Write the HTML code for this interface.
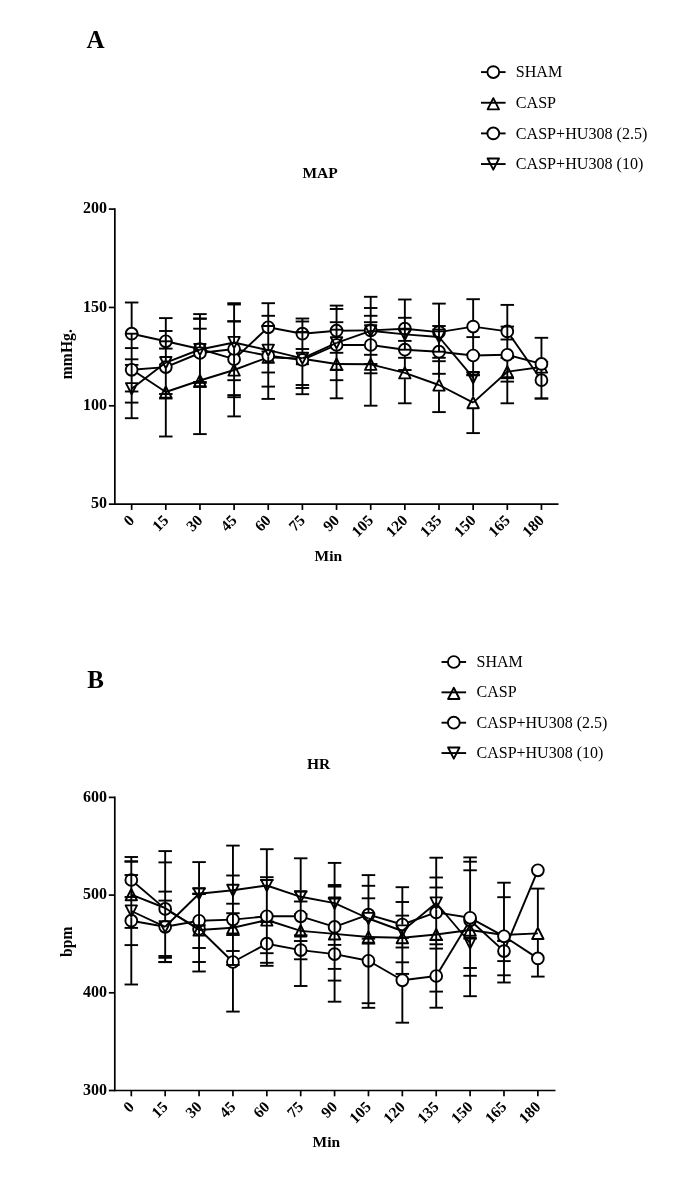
<!DOCTYPE html>
<html lang="en"><head><meta charset="utf-8"><title>MAP and HR</title>
<style>
html,body{margin:0;padding:0;background:#fff;}
svg{display:block;will-change:transform;font-family:"Liberation Serif","Times New Roman",serif;fill:#000;}
</style></head><body>
<svg width="685" height="1180" viewBox="0 0 685 1180">
<rect width="685" height="1180" fill="#fff"/>
<line x1="114.85" y1="208.25" x2="114.85" y2="505" stroke="#000" stroke-width="1.7"/>
<line x1="114" y1="504.15" x2="558.5" y2="504.15" stroke="#000" stroke-width="1.7"/>
<line x1="108.85" y1="209.1" x2="114.85" y2="209.1" stroke="#000" stroke-width="1.7"/>
<text x="106.95" y="213.2" font-size="16" font-weight="bold" text-anchor="end">200</text>
<line x1="108.85" y1="307.45" x2="114.85" y2="307.45" stroke="#000" stroke-width="1.7"/>
<text x="106.95" y="311.55" font-size="16" font-weight="bold" text-anchor="end">150</text>
<line x1="108.85" y1="405.8" x2="114.85" y2="405.8" stroke="#000" stroke-width="1.7"/>
<text x="106.95" y="409.9" font-size="16" font-weight="bold" text-anchor="end">100</text>
<line x1="108.85" y1="504.15" x2="114.85" y2="504.15" stroke="#000" stroke-width="1.7"/>
<text x="106.95" y="508.25" font-size="16" font-weight="bold" text-anchor="end">50</text>
<line x1="131.65" y1="504.15" x2="131.65" y2="509.95" stroke="#000" stroke-width="1.7"/>
<text transform="translate(135.25 521.35) rotate(-45)" font-size="15.5" font-weight="bold" text-anchor="end">0</text>
<line x1="165.8" y1="504.15" x2="165.8" y2="509.95" stroke="#000" stroke-width="1.7"/>
<text transform="translate(169.4 521.35) rotate(-45)" font-size="15.5" font-weight="bold" text-anchor="end">15</text>
<line x1="199.95" y1="504.15" x2="199.95" y2="509.95" stroke="#000" stroke-width="1.7"/>
<text transform="translate(203.55 521.35) rotate(-45)" font-size="15.5" font-weight="bold" text-anchor="end">30</text>
<line x1="234.1" y1="504.15" x2="234.1" y2="509.95" stroke="#000" stroke-width="1.7"/>
<text transform="translate(237.7 521.35) rotate(-45)" font-size="15.5" font-weight="bold" text-anchor="end">45</text>
<line x1="268.25" y1="504.15" x2="268.25" y2="509.95" stroke="#000" stroke-width="1.7"/>
<text transform="translate(271.85 521.35) rotate(-45)" font-size="15.5" font-weight="bold" text-anchor="end">60</text>
<line x1="302.4" y1="504.15" x2="302.4" y2="509.95" stroke="#000" stroke-width="1.7"/>
<text transform="translate(306 521.35) rotate(-45)" font-size="15.5" font-weight="bold" text-anchor="end">75</text>
<line x1="336.55" y1="504.15" x2="336.55" y2="509.95" stroke="#000" stroke-width="1.7"/>
<text transform="translate(340.15 521.35) rotate(-45)" font-size="15.5" font-weight="bold" text-anchor="end">90</text>
<line x1="370.7" y1="504.15" x2="370.7" y2="509.95" stroke="#000" stroke-width="1.7"/>
<text transform="translate(374.3 521.35) rotate(-45)" font-size="15.5" font-weight="bold" text-anchor="end">105</text>
<line x1="404.85" y1="504.15" x2="404.85" y2="509.95" stroke="#000" stroke-width="1.7"/>
<text transform="translate(408.45 521.35) rotate(-45)" font-size="15.5" font-weight="bold" text-anchor="end">120</text>
<line x1="439" y1="504.15" x2="439" y2="509.95" stroke="#000" stroke-width="1.7"/>
<text transform="translate(442.6 521.35) rotate(-45)" font-size="15.5" font-weight="bold" text-anchor="end">135</text>
<line x1="473.15" y1="504.15" x2="473.15" y2="509.95" stroke="#000" stroke-width="1.7"/>
<text transform="translate(476.75 521.35) rotate(-45)" font-size="15.5" font-weight="bold" text-anchor="end">150</text>
<line x1="507.3" y1="504.15" x2="507.3" y2="509.95" stroke="#000" stroke-width="1.7"/>
<text transform="translate(510.9 521.35) rotate(-45)" font-size="15.5" font-weight="bold" text-anchor="end">165</text>
<line x1="541.45" y1="504.15" x2="541.45" y2="509.95" stroke="#000" stroke-width="1.7"/>
<text transform="translate(545.05 521.35) rotate(-45)" font-size="15.5" font-weight="bold" text-anchor="end">180</text>
<text x="320.1" y="178.2" font-size="15.5" font-weight="bold" text-anchor="middle">MAP</text>
<text x="328.4" y="560.8" font-size="15.5" font-weight="bold" text-anchor="middle">Min</text>
<text transform="translate(71.8 354.2) rotate(-90)" font-size="15.7" font-weight="bold" text-anchor="middle">mmHg.</text>
<text x="86.6" y="48.3" font-size="25" font-weight="bold">A</text>
<line x1="481" y1="72.1" x2="505.6" y2="72.1" stroke="#000" stroke-width="1.9"/>
<circle cx="493.3" cy="72.1" r="5.9" fill="#fff" stroke="#000" stroke-width="1.9"/>
<text x="515.8" y="77.2" font-size="16.1">SHAM</text>
<line x1="481" y1="102.75" x2="505.6" y2="102.75" stroke="#000" stroke-width="1.9"/>
<polygon points="493.3,98.15 499,109.35 487.6,109.35" fill="none" stroke="#000" stroke-width="1.9" stroke-linejoin="round"/>
<text x="515.8" y="107.85" font-size="16.1">CASP</text>
<line x1="481" y1="133.4" x2="505.6" y2="133.4" stroke="#000" stroke-width="1.9"/>
<circle cx="493.3" cy="133.4" r="5.9" fill="#fff" stroke="#000" stroke-width="1.9"/>
<text x="515.8" y="138.5" font-size="16.1">CASP+HU308 (2.5)</text>
<line x1="481" y1="164.05" x2="505.6" y2="164.05" stroke="#000" stroke-width="1.9"/>
<polygon points="487.6,158.45 499,158.45 493.3,169.65" fill="none" stroke="#000" stroke-width="1.9" stroke-linejoin="round"/>
<text x="515.8" y="169.15" font-size="16.1">CASP+HU308 (10)</text>
<line x1="124.9" y1="302.5" x2="138.4" y2="302.5" stroke="#000" stroke-width="1.9"/>
<line x1="124.9" y1="364.9" x2="138.4" y2="364.9" stroke="#000" stroke-width="1.9"/>
<line x1="131.65" y1="302.35" x2="131.65" y2="327.95" stroke="#000" stroke-width="1.9"/>
<line x1="131.65" y1="339.45" x2="131.65" y2="365.05" stroke="#000" stroke-width="1.9"/>
<line x1="159.05" y1="318.1" x2="172.55" y2="318.1" stroke="#000" stroke-width="1.9"/>
<line x1="159.05" y1="364.5" x2="172.55" y2="364.5" stroke="#000" stroke-width="1.9"/>
<line x1="165.8" y1="317.95" x2="165.8" y2="335.55" stroke="#000" stroke-width="1.9"/>
<line x1="165.8" y1="347.05" x2="165.8" y2="364.65" stroke="#000" stroke-width="1.9"/>
<line x1="193.2" y1="314.1" x2="206.7" y2="314.1" stroke="#000" stroke-width="1.9"/>
<line x1="193.2" y1="382.9" x2="206.7" y2="382.9" stroke="#000" stroke-width="1.9"/>
<line x1="199.95" y1="313.95" x2="199.95" y2="343.25" stroke="#000" stroke-width="1.9"/>
<line x1="199.95" y1="354.75" x2="199.95" y2="383.05" stroke="#000" stroke-width="1.9"/>
<line x1="227.35" y1="321.2" x2="240.85" y2="321.2" stroke="#000" stroke-width="1.9"/>
<line x1="227.35" y1="397.2" x2="240.85" y2="397.2" stroke="#000" stroke-width="1.9"/>
<line x1="234.1" y1="321.05" x2="234.1" y2="353.45" stroke="#000" stroke-width="1.9"/>
<line x1="234.1" y1="364.95" x2="234.1" y2="397.35" stroke="#000" stroke-width="1.9"/>
<line x1="261.5" y1="303.2" x2="275" y2="303.2" stroke="#000" stroke-width="1.9"/>
<line x1="261.5" y1="351.4" x2="275" y2="351.4" stroke="#000" stroke-width="1.9"/>
<line x1="268.25" y1="303.05" x2="268.25" y2="321.55" stroke="#000" stroke-width="1.9"/>
<line x1="268.25" y1="333.05" x2="268.25" y2="351.55" stroke="#000" stroke-width="1.9"/>
<line x1="295.65" y1="318.5" x2="309.15" y2="318.5" stroke="#000" stroke-width="1.9"/>
<line x1="295.65" y1="349" x2="309.15" y2="349" stroke="#000" stroke-width="1.9"/>
<line x1="302.4" y1="318.35" x2="302.4" y2="327.95" stroke="#000" stroke-width="1.9"/>
<line x1="302.4" y1="339.45" x2="302.4" y2="349.15" stroke="#000" stroke-width="1.9"/>
<line x1="329.8" y1="309" x2="343.3" y2="309" stroke="#000" stroke-width="1.9"/>
<line x1="329.8" y1="352.8" x2="343.3" y2="352.8" stroke="#000" stroke-width="1.9"/>
<line x1="336.55" y1="308.85" x2="336.55" y2="324.95" stroke="#000" stroke-width="1.9"/>
<line x1="336.55" y1="336.45" x2="336.55" y2="352.95" stroke="#000" stroke-width="1.9"/>
<line x1="363.95" y1="296.8" x2="377.45" y2="296.8" stroke="#000" stroke-width="1.9"/>
<line x1="363.95" y1="364" x2="377.45" y2="364" stroke="#000" stroke-width="1.9"/>
<line x1="370.7" y1="296.65" x2="370.7" y2="324.65" stroke="#000" stroke-width="1.9"/>
<line x1="370.7" y1="336.15" x2="370.7" y2="364.15" stroke="#000" stroke-width="1.9"/>
<line x1="398.1" y1="299.5" x2="411.6" y2="299.5" stroke="#000" stroke-width="1.9"/>
<line x1="398.1" y1="357.8" x2="411.6" y2="357.8" stroke="#000" stroke-width="1.9"/>
<line x1="404.85" y1="299.35" x2="404.85" y2="322.95" stroke="#000" stroke-width="1.9"/>
<line x1="404.85" y1="334.45" x2="404.85" y2="357.95" stroke="#000" stroke-width="1.9"/>
<line x1="432.25" y1="303.6" x2="445.75" y2="303.6" stroke="#000" stroke-width="1.9"/>
<line x1="432.25" y1="361.2" x2="445.75" y2="361.2" stroke="#000" stroke-width="1.9"/>
<line x1="439" y1="303.45" x2="439" y2="326.35" stroke="#000" stroke-width="1.9"/>
<line x1="439" y1="337.85" x2="439" y2="361.35" stroke="#000" stroke-width="1.9"/>
<line x1="466.4" y1="299.2" x2="479.9" y2="299.2" stroke="#000" stroke-width="1.9"/>
<line x1="466.4" y1="354" x2="479.9" y2="354" stroke="#000" stroke-width="1.9"/>
<line x1="473.15" y1="299.05" x2="473.15" y2="320.85" stroke="#000" stroke-width="1.9"/>
<line x1="473.15" y1="332.35" x2="473.15" y2="354.15" stroke="#000" stroke-width="1.9"/>
<line x1="500.55" y1="304.9" x2="514.05" y2="304.9" stroke="#000" stroke-width="1.9"/>
<line x1="500.55" y1="357.9" x2="514.05" y2="357.9" stroke="#000" stroke-width="1.9"/>
<line x1="507.3" y1="304.75" x2="507.3" y2="325.65" stroke="#000" stroke-width="1.9"/>
<line x1="507.3" y1="337.15" x2="507.3" y2="358.05" stroke="#000" stroke-width="1.9"/>
<line x1="534.7" y1="361.9" x2="548.2" y2="361.9" stroke="#000" stroke-width="1.9"/>
<line x1="534.7" y1="398.5" x2="548.2" y2="398.5" stroke="#000" stroke-width="1.9"/>
<line x1="541.45" y1="361.75" x2="541.45" y2="374.45" stroke="#000" stroke-width="1.9"/>
<line x1="541.45" y1="385.95" x2="541.45" y2="398.65" stroke="#000" stroke-width="1.9"/>
<line x1="131.65" y1="333.7" x2="165.8" y2="341.3" stroke="#000" stroke-width="1.9"/>
<line x1="165.8" y1="341.3" x2="199.95" y2="349" stroke="#000" stroke-width="1.9"/>
<line x1="199.95" y1="349" x2="234.1" y2="359.2" stroke="#000" stroke-width="1.9"/>
<line x1="234.1" y1="359.2" x2="268.25" y2="327.3" stroke="#000" stroke-width="1.9"/>
<line x1="268.25" y1="327.3" x2="302.4" y2="333.7" stroke="#000" stroke-width="1.9"/>
<line x1="302.4" y1="333.7" x2="336.55" y2="330.7" stroke="#000" stroke-width="1.9"/>
<line x1="336.55" y1="330.7" x2="370.7" y2="330.4" stroke="#000" stroke-width="1.9"/>
<line x1="370.7" y1="330.4" x2="404.85" y2="328.7" stroke="#000" stroke-width="1.9"/>
<line x1="404.85" y1="328.7" x2="439" y2="332.1" stroke="#000" stroke-width="1.9"/>
<line x1="439" y1="332.1" x2="473.15" y2="326.6" stroke="#000" stroke-width="1.9"/>
<line x1="473.15" y1="326.6" x2="507.3" y2="331.4" stroke="#000" stroke-width="1.9"/>
<line x1="507.3" y1="331.4" x2="541.45" y2="380.2" stroke="#000" stroke-width="1.9"/>
<circle cx="131.65" cy="333.7" r="5.9" fill="#fff" stroke="#000" stroke-width="1.9"/>
<circle cx="165.8" cy="341.3" r="5.9" fill="#fff" stroke="#000" stroke-width="1.9"/>
<circle cx="199.95" cy="349" r="5.9" fill="#fff" stroke="#000" stroke-width="1.9"/>
<circle cx="234.1" cy="359.2" r="5.9" fill="#fff" stroke="#000" stroke-width="1.9"/>
<circle cx="268.25" cy="327.3" r="5.9" fill="#fff" stroke="#000" stroke-width="1.9"/>
<circle cx="302.4" cy="333.7" r="5.9" fill="#fff" stroke="#000" stroke-width="1.9"/>
<circle cx="336.55" cy="330.7" r="5.9" fill="#fff" stroke="#000" stroke-width="1.9"/>
<circle cx="370.7" cy="330.4" r="5.9" fill="#fff" stroke="#000" stroke-width="1.9"/>
<circle cx="404.85" cy="328.7" r="5.9" fill="#fff" stroke="#000" stroke-width="1.9"/>
<circle cx="439" cy="332.1" r="5.9" fill="#fff" stroke="#000" stroke-width="1.9"/>
<circle cx="473.15" cy="326.6" r="5.9" fill="#fff" stroke="#000" stroke-width="1.9"/>
<circle cx="507.3" cy="331.4" r="5.9" fill="#fff" stroke="#000" stroke-width="1.9"/>
<circle cx="541.45" cy="380.2" r="5.9" fill="#fff" stroke="#000" stroke-width="1.9"/>
<line x1="124.9" y1="333.7" x2="138.4" y2="333.7" stroke="#000" stroke-width="1.9"/>
<line x1="124.9" y1="402.6" x2="138.4" y2="402.6" stroke="#000" stroke-width="1.9"/>
<line x1="131.65" y1="333.55" x2="131.65" y2="339.95" stroke="#000" stroke-width="1.9"/>
<line x1="131.65" y1="375.85" x2="131.65" y2="402.75" stroke="#000" stroke-width="1.9"/>
<line x1="159.05" y1="348.6" x2="172.55" y2="348.6" stroke="#000" stroke-width="1.9"/>
<line x1="159.05" y1="436.5" x2="172.55" y2="436.5" stroke="#000" stroke-width="1.9"/>
<line x1="165.8" y1="364.35" x2="165.8" y2="385.65" stroke="#000" stroke-width="1.9"/>
<line x1="165.8" y1="398.35" x2="165.8" y2="436.65" stroke="#000" stroke-width="1.9"/>
<line x1="193.2" y1="328.7" x2="206.7" y2="328.7" stroke="#000" stroke-width="1.9"/>
<line x1="193.2" y1="434.1" x2="206.7" y2="434.1" stroke="#000" stroke-width="1.9"/>
<line x1="199.95" y1="342.75" x2="199.95" y2="355.25" stroke="#000" stroke-width="1.9"/>
<line x1="199.95" y1="386.85" x2="199.95" y2="434.25" stroke="#000" stroke-width="1.9"/>
<line x1="227.35" y1="321.5" x2="240.85" y2="321.5" stroke="#000" stroke-width="1.9"/>
<line x1="227.35" y1="416.4" x2="240.85" y2="416.4" stroke="#000" stroke-width="1.9"/>
<line x1="234.1" y1="352.95" x2="234.1" y2="363.65" stroke="#000" stroke-width="1.9"/>
<line x1="234.1" y1="397.05" x2="234.1" y2="416.55" stroke="#000" stroke-width="1.9"/>
<line x1="261.5" y1="315.8" x2="275" y2="315.8" stroke="#000" stroke-width="1.9"/>
<line x1="261.5" y1="398.9" x2="275" y2="398.9" stroke="#000" stroke-width="1.9"/>
<line x1="268.25" y1="321.05" x2="268.25" y2="333.55" stroke="#000" stroke-width="1.9"/>
<line x1="268.25" y1="363.65" x2="268.25" y2="399.05" stroke="#000" stroke-width="1.9"/>
<line x1="295.65" y1="332.4" x2="309.15" y2="332.4" stroke="#000" stroke-width="1.9"/>
<line x1="295.65" y1="385" x2="309.15" y2="385" stroke="#000" stroke-width="1.9"/>
<line x1="302.4" y1="332.25" x2="302.4" y2="339.95" stroke="#000" stroke-width="1.9"/>
<line x1="302.4" y1="348.85" x2="302.4" y2="352.35" stroke="#000" stroke-width="1.9"/>
<line x1="302.4" y1="365.05" x2="302.4" y2="385.15" stroke="#000" stroke-width="1.9"/>
<line x1="329.8" y1="329.7" x2="343.3" y2="329.7" stroke="#000" stroke-width="1.9"/>
<line x1="329.8" y1="398.3" x2="343.3" y2="398.3" stroke="#000" stroke-width="1.9"/>
<line x1="336.55" y1="329.55" x2="336.55" y2="336.95" stroke="#000" stroke-width="1.9"/>
<line x1="336.55" y1="352.65" x2="336.55" y2="357.65" stroke="#000" stroke-width="1.9"/>
<line x1="336.55" y1="370.35" x2="336.55" y2="398.45" stroke="#000" stroke-width="1.9"/>
<line x1="363.95" y1="322.2" x2="377.45" y2="322.2" stroke="#000" stroke-width="1.9"/>
<line x1="363.95" y1="405.7" x2="377.45" y2="405.7" stroke="#000" stroke-width="1.9"/>
<line x1="370.7" y1="324.15" x2="370.7" y2="336.65" stroke="#000" stroke-width="1.9"/>
<line x1="370.7" y1="370.65" x2="370.7" y2="405.85" stroke="#000" stroke-width="1.9"/>
<line x1="398.1" y1="340.9" x2="411.6" y2="340.9" stroke="#000" stroke-width="1.9"/>
<line x1="398.1" y1="403.3" x2="411.6" y2="403.3" stroke="#000" stroke-width="1.9"/>
<line x1="404.85" y1="357.65" x2="404.85" y2="366.45" stroke="#000" stroke-width="1.9"/>
<line x1="404.85" y1="379.15" x2="404.85" y2="403.45" stroke="#000" stroke-width="1.9"/>
<line x1="432.25" y1="357.8" x2="445.75" y2="357.8" stroke="#000" stroke-width="1.9"/>
<line x1="432.25" y1="412.1" x2="445.75" y2="412.1" stroke="#000" stroke-width="1.9"/>
<line x1="439" y1="361.05" x2="439" y2="378.65" stroke="#000" stroke-width="1.9"/>
<line x1="439" y1="391.35" x2="439" y2="412.25" stroke="#000" stroke-width="1.9"/>
<line x1="466.4" y1="372.4" x2="479.9" y2="372.4" stroke="#000" stroke-width="1.9"/>
<line x1="466.4" y1="433.1" x2="479.9" y2="433.1" stroke="#000" stroke-width="1.9"/>
<line x1="473.15" y1="372.25" x2="473.15" y2="396.25" stroke="#000" stroke-width="1.9"/>
<line x1="473.15" y1="408.95" x2="473.15" y2="433.25" stroke="#000" stroke-width="1.9"/>
<line x1="500.55" y1="339.5" x2="514.05" y2="339.5" stroke="#000" stroke-width="1.9"/>
<line x1="500.55" y1="403.3" x2="514.05" y2="403.3" stroke="#000" stroke-width="1.9"/>
<line x1="507.3" y1="357.75" x2="507.3" y2="365.35" stroke="#000" stroke-width="1.9"/>
<line x1="507.3" y1="378.05" x2="507.3" y2="403.45" stroke="#000" stroke-width="1.9"/>
<line x1="534.7" y1="337.8" x2="548.2" y2="337.8" stroke="#000" stroke-width="1.9"/>
<line x1="534.7" y1="398.5" x2="548.2" y2="398.5" stroke="#000" stroke-width="1.9"/>
<line x1="541.45" y1="337.65" x2="541.45" y2="360.65" stroke="#000" stroke-width="1.9"/>
<line x1="541.45" y1="373.95" x2="541.45" y2="386.45" stroke="#000" stroke-width="1.9"/>
<line x1="131.65" y1="369.5" x2="165.8" y2="392" stroke="#000" stroke-width="1.9"/>
<line x1="165.8" y1="392" x2="199.95" y2="380.5" stroke="#000" stroke-width="1.9"/>
<line x1="199.95" y1="380.5" x2="234.1" y2="370" stroke="#000" stroke-width="1.9"/>
<line x1="234.1" y1="370" x2="268.25" y2="357.3" stroke="#000" stroke-width="1.9"/>
<line x1="268.25" y1="357.3" x2="302.4" y2="358.7" stroke="#000" stroke-width="1.9"/>
<line x1="302.4" y1="358.7" x2="336.55" y2="364" stroke="#000" stroke-width="1.9"/>
<line x1="336.55" y1="364" x2="370.7" y2="364.3" stroke="#000" stroke-width="1.9"/>
<line x1="370.7" y1="364.3" x2="404.85" y2="372.8" stroke="#000" stroke-width="1.9"/>
<line x1="404.85" y1="372.8" x2="439" y2="385" stroke="#000" stroke-width="1.9"/>
<line x1="439" y1="385" x2="473.15" y2="402.6" stroke="#000" stroke-width="1.9"/>
<line x1="473.15" y1="402.6" x2="507.3" y2="371.7" stroke="#000" stroke-width="1.9"/>
<line x1="507.3" y1="371.7" x2="541.45" y2="367" stroke="#000" stroke-width="1.9"/>
<polygon points="165.8,386.4 171.5,397.6 160.1,397.6" fill="none" stroke="#000" stroke-width="1.9" stroke-linejoin="round"/>
<polygon points="199.95,374.9 205.65,386.1 194.25,386.1" fill="none" stroke="#000" stroke-width="1.9" stroke-linejoin="round"/>
<polygon points="234.1,364.4 239.8,375.6 228.4,375.6" fill="none" stroke="#000" stroke-width="1.9" stroke-linejoin="round"/>
<polygon points="268.25,351.7 273.95,362.9 262.55,362.9" fill="none" stroke="#000" stroke-width="1.9" stroke-linejoin="round"/>
<polygon points="302.4,353.1 308.1,364.3 296.7,364.3" fill="none" stroke="#000" stroke-width="1.9" stroke-linejoin="round"/>
<polygon points="336.55,358.4 342.25,369.6 330.85,369.6" fill="none" stroke="#000" stroke-width="1.9" stroke-linejoin="round"/>
<polygon points="370.7,358.7 376.4,369.9 365,369.9" fill="none" stroke="#000" stroke-width="1.9" stroke-linejoin="round"/>
<polygon points="404.85,367.2 410.55,378.4 399.15,378.4" fill="none" stroke="#000" stroke-width="1.9" stroke-linejoin="round"/>
<polygon points="439,379.4 444.7,390.6 433.3,390.6" fill="none" stroke="#000" stroke-width="1.9" stroke-linejoin="round"/>
<polygon points="473.15,397 478.85,408.2 467.45,408.2" fill="none" stroke="#000" stroke-width="1.9" stroke-linejoin="round"/>
<polygon points="507.3,366.1 513,377.3 501.6,377.3" fill="none" stroke="#000" stroke-width="1.9" stroke-linejoin="round"/>
<polygon points="541.45,361.4 547.15,372.6 535.75,372.6" fill="none" stroke="#000" stroke-width="1.9" stroke-linejoin="round"/>
<line x1="124.9" y1="348.1" x2="138.4" y2="348.1" stroke="#000" stroke-width="1.9"/>
<line x1="124.9" y1="391.5" x2="138.4" y2="391.5" stroke="#000" stroke-width="1.9"/>
<line x1="131.65" y1="375.55" x2="131.65" y2="376.15" stroke="#000" stroke-width="1.9"/>
<line x1="159.05" y1="341.3" x2="172.55" y2="341.3" stroke="#000" stroke-width="1.9"/>
<line x1="159.05" y1="398.5" x2="172.55" y2="398.5" stroke="#000" stroke-width="1.9"/>
<line x1="165.8" y1="341.15" x2="165.8" y2="347.55" stroke="#000" stroke-width="1.9"/>
<line x1="165.8" y1="385.35" x2="165.8" y2="398.65" stroke="#000" stroke-width="1.9"/>
<line x1="193.2" y1="318.5" x2="206.7" y2="318.5" stroke="#000" stroke-width="1.9"/>
<line x1="193.2" y1="387" x2="206.7" y2="387" stroke="#000" stroke-width="1.9"/>
<line x1="199.95" y1="382.75" x2="199.95" y2="387.15" stroke="#000" stroke-width="1.9"/>
<line x1="227.35" y1="303.2" x2="240.85" y2="303.2" stroke="#000" stroke-width="1.9"/>
<line x1="227.35" y1="395.1" x2="240.85" y2="395.1" stroke="#000" stroke-width="1.9"/>
<line x1="234.1" y1="303.05" x2="234.1" y2="321.35" stroke="#000" stroke-width="1.9"/>
<line x1="234.1" y1="363.35" x2="234.1" y2="365.45" stroke="#000" stroke-width="1.9"/>
<line x1="261.5" y1="326" x2="275" y2="326" stroke="#000" stroke-width="1.9"/>
<line x1="261.5" y1="386.6" x2="275" y2="386.6" stroke="#000" stroke-width="1.9"/>
<line x1="268.25" y1="361.55" x2="268.25" y2="363.95" stroke="#000" stroke-width="1.9"/>
<line x1="295.65" y1="332" x2="309.15" y2="332" stroke="#000" stroke-width="1.9"/>
<line x1="295.65" y1="388" x2="309.15" y2="388" stroke="#000" stroke-width="1.9"/>
<line x1="302.4" y1="331.85" x2="302.4" y2="332.55" stroke="#000" stroke-width="1.9"/>
<line x1="302.4" y1="352.05" x2="302.4" y2="354.15" stroke="#000" stroke-width="1.9"/>
<line x1="302.4" y1="384.85" x2="302.4" y2="388.15" stroke="#000" stroke-width="1.9"/>
<line x1="329.8" y1="305.6" x2="343.3" y2="305.6" stroke="#000" stroke-width="1.9"/>
<line x1="329.8" y1="380.2" x2="343.3" y2="380.2" stroke="#000" stroke-width="1.9"/>
<line x1="336.55" y1="305.45" x2="336.55" y2="309.15" stroke="#000" stroke-width="1.9"/>
<line x1="336.55" y1="324.45" x2="336.55" y2="329.85" stroke="#000" stroke-width="1.9"/>
<line x1="336.55" y1="357.35" x2="336.55" y2="370.65" stroke="#000" stroke-width="1.9"/>
<line x1="363.95" y1="315.8" x2="377.45" y2="315.8" stroke="#000" stroke-width="1.9"/>
<line x1="363.95" y1="373.3" x2="377.45" y2="373.3" stroke="#000" stroke-width="1.9"/>
<line x1="370.7" y1="363.85" x2="370.7" y2="370.95" stroke="#000" stroke-width="1.9"/>
<line x1="398.1" y1="329.4" x2="411.6" y2="329.4" stroke="#000" stroke-width="1.9"/>
<line x1="398.1" y1="370" x2="411.6" y2="370" stroke="#000" stroke-width="1.9"/>
<line x1="404.85" y1="329.25" x2="404.85" y2="334.95" stroke="#000" stroke-width="1.9"/>
<line x1="404.85" y1="366.15" x2="404.85" y2="370.15" stroke="#000" stroke-width="1.9"/>
<line x1="432.25" y1="329.6" x2="445.75" y2="329.6" stroke="#000" stroke-width="1.9"/>
<line x1="432.25" y1="373.8" x2="445.75" y2="373.8" stroke="#000" stroke-width="1.9"/>
<line x1="439" y1="329.45" x2="439" y2="338.35" stroke="#000" stroke-width="1.9"/>
<line x1="466.4" y1="337.1" x2="479.9" y2="337.1" stroke="#000" stroke-width="1.9"/>
<line x1="466.4" y1="374.8" x2="479.9" y2="374.8" stroke="#000" stroke-width="1.9"/>
<line x1="473.15" y1="361.25" x2="473.15" y2="372.55" stroke="#000" stroke-width="1.9"/>
<line x1="500.55" y1="326.6" x2="514.05" y2="326.6" stroke="#000" stroke-width="1.9"/>
<line x1="500.55" y1="381.6" x2="514.05" y2="381.6" stroke="#000" stroke-width="1.9"/>
<line x1="507.3" y1="326.45" x2="507.3" y2="337.65" stroke="#000" stroke-width="1.9"/>
<line x1="507.3" y1="365.05" x2="507.3" y2="378.35" stroke="#000" stroke-width="1.9"/>
<line x1="500.55" y1="378.2" x2="514.05" y2="378.2" stroke="#000" stroke-width="1.9"/>
<line x1="131.65" y1="369.8" x2="165.8" y2="367.1" stroke="#000" stroke-width="1.9"/>
<line x1="165.8" y1="367.1" x2="199.95" y2="353" stroke="#000" stroke-width="1.9"/>
<line x1="199.95" y1="353" x2="234.1" y2="349" stroke="#000" stroke-width="1.9"/>
<line x1="234.1" y1="349" x2="268.25" y2="355.8" stroke="#000" stroke-width="1.9"/>
<line x1="268.25" y1="355.8" x2="302.4" y2="359.9" stroke="#000" stroke-width="1.9"/>
<line x1="302.4" y1="359.9" x2="336.55" y2="345" stroke="#000" stroke-width="1.9"/>
<line x1="336.55" y1="345" x2="370.7" y2="345" stroke="#000" stroke-width="1.9"/>
<line x1="370.7" y1="345" x2="404.85" y2="349.7" stroke="#000" stroke-width="1.9"/>
<line x1="404.85" y1="349.7" x2="439" y2="351.7" stroke="#000" stroke-width="1.9"/>
<line x1="439" y1="351.7" x2="473.15" y2="355.5" stroke="#000" stroke-width="1.9"/>
<line x1="473.15" y1="355.5" x2="507.3" y2="354.8" stroke="#000" stroke-width="1.9"/>
<line x1="507.3" y1="354.8" x2="541.45" y2="363.9" stroke="#000" stroke-width="1.9"/>
<circle cx="131.65" cy="369.8" r="5.9" fill="#fff" stroke="#000" stroke-width="1.9"/>
<circle cx="165.8" cy="367.1" r="5.9" fill="#fff" stroke="#000" stroke-width="1.9"/>
<circle cx="199.95" cy="353" r="5.9" fill="#fff" stroke="#000" stroke-width="1.9"/>
<circle cx="234.1" cy="349" r="5.9" fill="#fff" stroke="#000" stroke-width="1.9"/>
<circle cx="268.25" cy="355.8" r="5.9" fill="#fff" stroke="#000" stroke-width="1.9"/>
<circle cx="302.4" cy="359.9" r="5.9" fill="#fff" stroke="#000" stroke-width="1.9"/>
<circle cx="336.55" cy="345" r="5.9" fill="#fff" stroke="#000" stroke-width="1.9"/>
<circle cx="370.7" cy="345" r="5.9" fill="#fff" stroke="#000" stroke-width="1.9"/>
<circle cx="404.85" cy="349.7" r="5.9" fill="#fff" stroke="#000" stroke-width="1.9"/>
<circle cx="439" cy="351.7" r="5.9" fill="#fff" stroke="#000" stroke-width="1.9"/>
<circle cx="473.15" cy="355.5" r="5.9" fill="#fff" stroke="#000" stroke-width="1.9"/>
<circle cx="507.3" cy="354.8" r="5.9" fill="#fff" stroke="#000" stroke-width="1.9"/>
<circle cx="541.45" cy="363.9" r="5.9" fill="#fff" stroke="#000" stroke-width="1.9"/>
<line x1="124.9" y1="359.3" x2="138.4" y2="359.3" stroke="#000" stroke-width="1.9"/>
<line x1="124.9" y1="418.2" x2="138.4" y2="418.2" stroke="#000" stroke-width="1.9"/>
<line x1="131.65" y1="363.55" x2="131.65" y2="376.05" stroke="#000" stroke-width="1.9"/>
<line x1="131.65" y1="402.45" x2="131.65" y2="418.35" stroke="#000" stroke-width="1.9"/>
<line x1="159.05" y1="331" x2="172.55" y2="331" stroke="#000" stroke-width="1.9"/>
<line x1="159.05" y1="394" x2="172.55" y2="394" stroke="#000" stroke-width="1.9"/>
<line x1="165.8" y1="335.05" x2="165.8" y2="341.45" stroke="#000" stroke-width="1.9"/>
<line x1="165.8" y1="368.95" x2="165.8" y2="373.35" stroke="#000" stroke-width="1.9"/>
<line x1="193.2" y1="318.8" x2="206.7" y2="318.8" stroke="#000" stroke-width="1.9"/>
<line x1="193.2" y1="382" x2="206.7" y2="382" stroke="#000" stroke-width="1.9"/>
<line x1="199.95" y1="355.85" x2="199.95" y2="359.25" stroke="#000" stroke-width="1.9"/>
<line x1="227.35" y1="304.5" x2="240.85" y2="304.5" stroke="#000" stroke-width="1.9"/>
<line x1="227.35" y1="380.2" x2="240.85" y2="380.2" stroke="#000" stroke-width="1.9"/>
<line x1="234.1" y1="348.85" x2="234.1" y2="355.25" stroke="#000" stroke-width="1.9"/>
<line x1="261.5" y1="326" x2="275" y2="326" stroke="#000" stroke-width="1.9"/>
<line x1="261.5" y1="372.5" x2="275" y2="372.5" stroke="#000" stroke-width="1.9"/>
<line x1="268.25" y1="356.55" x2="268.25" y2="362.05" stroke="#000" stroke-width="1.9"/>
<line x1="295.65" y1="321.5" x2="309.15" y2="321.5" stroke="#000" stroke-width="1.9"/>
<line x1="295.65" y1="394.2" x2="309.15" y2="394.2" stroke="#000" stroke-width="1.9"/>
<line x1="302.4" y1="327.45" x2="302.4" y2="332.15" stroke="#000" stroke-width="1.9"/>
<line x1="302.4" y1="364.65" x2="302.4" y2="366.15" stroke="#000" stroke-width="1.9"/>
<line x1="302.4" y1="387.85" x2="302.4" y2="394.35" stroke="#000" stroke-width="1.9"/>
<line x1="329.8" y1="322.2" x2="343.3" y2="322.2" stroke="#000" stroke-width="1.9"/>
<line x1="329.8" y1="370" x2="343.3" y2="370" stroke="#000" stroke-width="1.9"/>
<line x1="336.55" y1="349.15" x2="336.55" y2="351.25" stroke="#000" stroke-width="1.9"/>
<line x1="363.95" y1="308" x2="377.45" y2="308" stroke="#000" stroke-width="1.9"/>
<line x1="363.95" y1="354.8" x2="377.45" y2="354.8" stroke="#000" stroke-width="1.9"/>
<line x1="370.7" y1="338.75" x2="370.7" y2="351.25" stroke="#000" stroke-width="1.9"/>
<line x1="398.1" y1="317.8" x2="411.6" y2="317.8" stroke="#000" stroke-width="1.9"/>
<line x1="398.1" y1="349.7" x2="411.6" y2="349.7" stroke="#000" stroke-width="1.9"/>
<line x1="404.85" y1="322.45" x2="404.85" y2="328.05" stroke="#000" stroke-width="1.9"/>
<line x1="404.85" y1="343.45" x2="404.85" y2="349.85" stroke="#000" stroke-width="1.9"/>
<line x1="432.25" y1="326" x2="445.75" y2="326" stroke="#000" stroke-width="1.9"/>
<line x1="432.25" y1="351.7" x2="445.75" y2="351.7" stroke="#000" stroke-width="1.9"/>
<line x1="439" y1="325.85" x2="439" y2="329.75" stroke="#000" stroke-width="1.9"/>
<line x1="439" y1="345.45" x2="439" y2="351.85" stroke="#000" stroke-width="1.9"/>
<line x1="466.4" y1="375.3" x2="479.9" y2="375.3" stroke="#000" stroke-width="1.9"/>
<line x1="131.65" y1="388.7" x2="165.8" y2="362.6" stroke="#000" stroke-width="1.9"/>
<line x1="165.8" y1="362.6" x2="199.95" y2="349.5" stroke="#000" stroke-width="1.9"/>
<line x1="199.95" y1="349.5" x2="234.1" y2="342.5" stroke="#000" stroke-width="1.9"/>
<line x1="234.1" y1="342.5" x2="268.25" y2="350.2" stroke="#000" stroke-width="1.9"/>
<line x1="268.25" y1="350.2" x2="302.4" y2="358.3" stroke="#000" stroke-width="1.9"/>
<line x1="302.4" y1="358.3" x2="336.55" y2="342.8" stroke="#000" stroke-width="1.9"/>
<line x1="336.55" y1="342.8" x2="370.7" y2="330.8" stroke="#000" stroke-width="1.9"/>
<line x1="370.7" y1="330.8" x2="404.85" y2="334.4" stroke="#000" stroke-width="1.9"/>
<line x1="404.85" y1="334.4" x2="439" y2="337" stroke="#000" stroke-width="1.9"/>
<line x1="439" y1="337" x2="473.15" y2="377.6" stroke="#000" stroke-width="1.9"/>
<polygon points="125.95,383.1 137.35,383.1 131.65,394.3" fill="none" stroke="#000" stroke-width="1.9" stroke-linejoin="round"/>
<polygon points="160.1,357 171.5,357 165.8,368.2" fill="none" stroke="#000" stroke-width="1.9" stroke-linejoin="round"/>
<polygon points="194.25,343.9 205.65,343.9 199.95,355.1" fill="none" stroke="#000" stroke-width="1.9" stroke-linejoin="round"/>
<polygon points="228.4,336.9 239.8,336.9 234.1,348.1" fill="none" stroke="#000" stroke-width="1.9" stroke-linejoin="round"/>
<polygon points="262.55,344.6 273.95,344.6 268.25,355.8" fill="none" stroke="#000" stroke-width="1.9" stroke-linejoin="round"/>
<polygon points="296.7,352.7 308.1,352.7 302.4,363.9" fill="none" stroke="#000" stroke-width="1.9" stroke-linejoin="round"/>
<polygon points="330.85,337.2 342.25,337.2 336.55,348.4" fill="none" stroke="#000" stroke-width="1.9" stroke-linejoin="round"/>
<polygon points="365,325.2 376.4,325.2 370.7,336.4" fill="none" stroke="#000" stroke-width="1.9" stroke-linejoin="round"/>
<polygon points="399.15,328.8 410.55,328.8 404.85,340" fill="none" stroke="#000" stroke-width="1.9" stroke-linejoin="round"/>
<polygon points="433.3,331.4 444.7,331.4 439,342.6" fill="none" stroke="#000" stroke-width="1.9" stroke-linejoin="round"/>
<polygon points="467.45,372 478.85,372 473.15,383.2" fill="none" stroke="#000" stroke-width="1.9" stroke-linejoin="round"/>
<line x1="114.8" y1="796.55" x2="114.8" y2="1091.35" stroke="#000" stroke-width="1.7"/>
<line x1="113.95" y1="1090.5" x2="555.5" y2="1090.5" stroke="#000" stroke-width="1.7"/>
<line x1="108.8" y1="797.4" x2="114.8" y2="797.4" stroke="#000" stroke-width="1.7"/>
<text x="106.9" y="801.5" font-size="16" font-weight="bold" text-anchor="end">600</text>
<line x1="108.8" y1="895.1" x2="114.8" y2="895.1" stroke="#000" stroke-width="1.7"/>
<text x="106.9" y="899.2" font-size="16" font-weight="bold" text-anchor="end">500</text>
<line x1="108.8" y1="992.8" x2="114.8" y2="992.8" stroke="#000" stroke-width="1.7"/>
<text x="106.9" y="996.9" font-size="16" font-weight="bold" text-anchor="end">400</text>
<line x1="108.8" y1="1090.5" x2="114.8" y2="1090.5" stroke="#000" stroke-width="1.7"/>
<text x="106.9" y="1094.6" font-size="16" font-weight="bold" text-anchor="end">300</text>
<line x1="131.3" y1="1090.5" x2="131.3" y2="1096.3" stroke="#000" stroke-width="1.7"/>
<text transform="translate(134.9 1107.7) rotate(-45)" font-size="15.5" font-weight="bold" text-anchor="end">0</text>
<line x1="165.18" y1="1090.5" x2="165.18" y2="1096.3" stroke="#000" stroke-width="1.7"/>
<text transform="translate(168.78 1107.7) rotate(-45)" font-size="15.5" font-weight="bold" text-anchor="end">15</text>
<line x1="199.06" y1="1090.5" x2="199.06" y2="1096.3" stroke="#000" stroke-width="1.7"/>
<text transform="translate(202.66 1107.7) rotate(-45)" font-size="15.5" font-weight="bold" text-anchor="end">30</text>
<line x1="232.94" y1="1090.5" x2="232.94" y2="1096.3" stroke="#000" stroke-width="1.7"/>
<text transform="translate(236.54 1107.7) rotate(-45)" font-size="15.5" font-weight="bold" text-anchor="end">45</text>
<line x1="266.82" y1="1090.5" x2="266.82" y2="1096.3" stroke="#000" stroke-width="1.7"/>
<text transform="translate(270.42 1107.7) rotate(-45)" font-size="15.5" font-weight="bold" text-anchor="end">60</text>
<line x1="300.7" y1="1090.5" x2="300.7" y2="1096.3" stroke="#000" stroke-width="1.7"/>
<text transform="translate(304.3 1107.7) rotate(-45)" font-size="15.5" font-weight="bold" text-anchor="end">75</text>
<line x1="334.58" y1="1090.5" x2="334.58" y2="1096.3" stroke="#000" stroke-width="1.7"/>
<text transform="translate(338.18 1107.7) rotate(-45)" font-size="15.5" font-weight="bold" text-anchor="end">90</text>
<line x1="368.46" y1="1090.5" x2="368.46" y2="1096.3" stroke="#000" stroke-width="1.7"/>
<text transform="translate(372.06 1107.7) rotate(-45)" font-size="15.5" font-weight="bold" text-anchor="end">105</text>
<line x1="402.34" y1="1090.5" x2="402.34" y2="1096.3" stroke="#000" stroke-width="1.7"/>
<text transform="translate(405.94 1107.7) rotate(-45)" font-size="15.5" font-weight="bold" text-anchor="end">120</text>
<line x1="436.22" y1="1090.5" x2="436.22" y2="1096.3" stroke="#000" stroke-width="1.7"/>
<text transform="translate(439.82 1107.7) rotate(-45)" font-size="15.5" font-weight="bold" text-anchor="end">135</text>
<line x1="470.1" y1="1090.5" x2="470.1" y2="1096.3" stroke="#000" stroke-width="1.7"/>
<text transform="translate(473.7 1107.7) rotate(-45)" font-size="15.5" font-weight="bold" text-anchor="end">150</text>
<line x1="503.98" y1="1090.5" x2="503.98" y2="1096.3" stroke="#000" stroke-width="1.7"/>
<text transform="translate(507.58 1107.7) rotate(-45)" font-size="15.5" font-weight="bold" text-anchor="end">165</text>
<line x1="537.86" y1="1090.5" x2="537.86" y2="1096.3" stroke="#000" stroke-width="1.7"/>
<text transform="translate(541.46 1107.7) rotate(-45)" font-size="15.5" font-weight="bold" text-anchor="end">180</text>
<text x="318.5" y="768.5" font-size="15.5" font-weight="bold" text-anchor="middle">HR</text>
<text x="326.3" y="1146.8" font-size="15.5" font-weight="bold" text-anchor="middle">Min</text>
<text transform="translate(71.8 941.7) rotate(-90)" font-size="15.7" font-weight="bold" text-anchor="middle">bpm</text>
<text x="87.3" y="688.3" font-size="25" font-weight="bold">B</text>
<line x1="441.5" y1="662" x2="466.1" y2="662" stroke="#000" stroke-width="1.9"/>
<circle cx="453.8" cy="662" r="5.9" fill="#fff" stroke="#000" stroke-width="1.9"/>
<text x="476.5" y="667.1" font-size="16">SHAM</text>
<line x1="441.5" y1="692.35" x2="466.1" y2="692.35" stroke="#000" stroke-width="1.9"/>
<polygon points="453.8,687.75 459.5,698.95 448.1,698.95" fill="none" stroke="#000" stroke-width="1.9" stroke-linejoin="round"/>
<text x="476.5" y="697.45" font-size="16">CASP</text>
<line x1="441.5" y1="722.7" x2="466.1" y2="722.7" stroke="#000" stroke-width="1.9"/>
<circle cx="453.8" cy="722.7" r="5.9" fill="#fff" stroke="#000" stroke-width="1.9"/>
<text x="476.5" y="727.8" font-size="16">CASP+HU308 (2.5)</text>
<line x1="441.5" y1="753.05" x2="466.1" y2="753.05" stroke="#000" stroke-width="1.9"/>
<polygon points="448.1,747.45 459.5,747.45 453.8,758.65" fill="none" stroke="#000" stroke-width="1.9" stroke-linejoin="round"/>
<text x="476.5" y="758.15" font-size="16">CASP+HU308 (10)</text>
<line x1="124.55" y1="861.7" x2="138.05" y2="861.7" stroke="#000" stroke-width="1.9"/>
<line x1="124.55" y1="897" x2="138.05" y2="897" stroke="#000" stroke-width="1.9"/>
<line x1="131.3" y1="861.55" x2="131.3" y2="874.25" stroke="#000" stroke-width="1.9"/>
<line x1="131.3" y1="885.75" x2="131.3" y2="897.15" stroke="#000" stroke-width="1.9"/>
<line x1="158.43" y1="862.4" x2="171.93" y2="862.4" stroke="#000" stroke-width="1.9"/>
<line x1="158.43" y1="956" x2="171.93" y2="956" stroke="#000" stroke-width="1.9"/>
<line x1="165.18" y1="862.25" x2="165.18" y2="903.15" stroke="#000" stroke-width="1.9"/>
<line x1="165.18" y1="914.65" x2="165.18" y2="956.15" stroke="#000" stroke-width="1.9"/>
<line x1="192.31" y1="888.5" x2="205.81" y2="888.5" stroke="#000" stroke-width="1.9"/>
<line x1="192.31" y1="971.5" x2="205.81" y2="971.5" stroke="#000" stroke-width="1.9"/>
<line x1="199.06" y1="888.35" x2="199.06" y2="923.25" stroke="#000" stroke-width="1.9"/>
<line x1="199.06" y1="934.75" x2="199.06" y2="971.65" stroke="#000" stroke-width="1.9"/>
<line x1="226.19" y1="913.2" x2="239.69" y2="913.2" stroke="#000" stroke-width="1.9"/>
<line x1="226.19" y1="1011.6" x2="239.69" y2="1011.6" stroke="#000" stroke-width="1.9"/>
<line x1="232.94" y1="913.05" x2="232.94" y2="956.25" stroke="#000" stroke-width="1.9"/>
<line x1="232.94" y1="967.75" x2="232.94" y2="1011.75" stroke="#000" stroke-width="1.9"/>
<line x1="260.07" y1="921.6" x2="273.57" y2="921.6" stroke="#000" stroke-width="1.9"/>
<line x1="260.07" y1="965.8" x2="273.57" y2="965.8" stroke="#000" stroke-width="1.9"/>
<line x1="266.82" y1="921.45" x2="266.82" y2="937.95" stroke="#000" stroke-width="1.9"/>
<line x1="266.82" y1="949.45" x2="266.82" y2="965.95" stroke="#000" stroke-width="1.9"/>
<line x1="293.95" y1="914.2" x2="307.45" y2="914.2" stroke="#000" stroke-width="1.9"/>
<line x1="293.95" y1="986" x2="307.45" y2="986" stroke="#000" stroke-width="1.9"/>
<line x1="300.7" y1="914.05" x2="300.7" y2="944.35" stroke="#000" stroke-width="1.9"/>
<line x1="300.7" y1="955.85" x2="300.7" y2="986.15" stroke="#000" stroke-width="1.9"/>
<line x1="327.83" y1="898.6" x2="341.33" y2="898.6" stroke="#000" stroke-width="1.9"/>
<line x1="327.83" y1="1001.7" x2="341.33" y2="1001.7" stroke="#000" stroke-width="1.9"/>
<line x1="334.58" y1="898.45" x2="334.58" y2="948.35" stroke="#000" stroke-width="1.9"/>
<line x1="334.58" y1="959.85" x2="334.58" y2="1001.85" stroke="#000" stroke-width="1.9"/>
<line x1="361.71" y1="913.8" x2="375.21" y2="913.8" stroke="#000" stroke-width="1.9"/>
<line x1="361.71" y1="1007.8" x2="375.21" y2="1007.8" stroke="#000" stroke-width="1.9"/>
<line x1="368.46" y1="913.65" x2="368.46" y2="955.05" stroke="#000" stroke-width="1.9"/>
<line x1="368.46" y1="966.55" x2="368.46" y2="1007.95" stroke="#000" stroke-width="1.9"/>
<line x1="395.59" y1="937.9" x2="409.09" y2="937.9" stroke="#000" stroke-width="1.9"/>
<line x1="395.59" y1="1022.7" x2="409.09" y2="1022.7" stroke="#000" stroke-width="1.9"/>
<line x1="402.34" y1="937.75" x2="402.34" y2="974.55" stroke="#000" stroke-width="1.9"/>
<line x1="402.34" y1="986.05" x2="402.34" y2="1022.85" stroke="#000" stroke-width="1.9"/>
<line x1="429.47" y1="944.3" x2="442.97" y2="944.3" stroke="#000" stroke-width="1.9"/>
<line x1="429.47" y1="1007.7" x2="442.97" y2="1007.7" stroke="#000" stroke-width="1.9"/>
<line x1="436.22" y1="944.15" x2="436.22" y2="970.25" stroke="#000" stroke-width="1.9"/>
<line x1="436.22" y1="981.75" x2="436.22" y2="1007.85" stroke="#000" stroke-width="1.9"/>
<line x1="463.35" y1="870.3" x2="476.85" y2="870.3" stroke="#000" stroke-width="1.9"/>
<line x1="463.35" y1="968" x2="476.85" y2="968" stroke="#000" stroke-width="1.9"/>
<line x1="470.1" y1="870.15" x2="470.1" y2="914.55" stroke="#000" stroke-width="1.9"/>
<line x1="470.1" y1="926.05" x2="470.1" y2="968.15" stroke="#000" stroke-width="1.9"/>
<line x1="497.23" y1="941" x2="510.73" y2="941" stroke="#000" stroke-width="1.9"/>
<line x1="497.23" y1="961.1" x2="510.73" y2="961.1" stroke="#000" stroke-width="1.9"/>
<line x1="503.98" y1="940.85" x2="503.98" y2="945.35" stroke="#000" stroke-width="1.9"/>
<line x1="503.98" y1="956.85" x2="503.98" y2="961.25" stroke="#000" stroke-width="1.9"/>
<line x1="131.3" y1="880" x2="165.18" y2="908.9" stroke="#000" stroke-width="1.9"/>
<line x1="165.18" y1="908.9" x2="199.06" y2="929" stroke="#000" stroke-width="1.9"/>
<line x1="199.06" y1="929" x2="232.94" y2="962" stroke="#000" stroke-width="1.9"/>
<line x1="232.94" y1="962" x2="266.82" y2="943.7" stroke="#000" stroke-width="1.9"/>
<line x1="266.82" y1="943.7" x2="300.7" y2="950.1" stroke="#000" stroke-width="1.9"/>
<line x1="300.7" y1="950.1" x2="334.58" y2="954.1" stroke="#000" stroke-width="1.9"/>
<line x1="334.58" y1="954.1" x2="368.46" y2="960.8" stroke="#000" stroke-width="1.9"/>
<line x1="368.46" y1="960.8" x2="402.34" y2="980.3" stroke="#000" stroke-width="1.9"/>
<line x1="402.34" y1="980.3" x2="436.22" y2="976" stroke="#000" stroke-width="1.9"/>
<line x1="436.22" y1="976" x2="470.1" y2="920.3" stroke="#000" stroke-width="1.9"/>
<line x1="470.1" y1="920.3" x2="503.98" y2="951.1" stroke="#000" stroke-width="1.9"/>
<line x1="503.98" y1="951.1" x2="537.86" y2="870.3" stroke="#000" stroke-width="1.9"/>
<circle cx="131.3" cy="880" r="5.9" fill="#fff" stroke="#000" stroke-width="1.9"/>
<circle cx="165.18" cy="908.9" r="5.9" fill="#fff" stroke="#000" stroke-width="1.9"/>
<circle cx="199.06" cy="929" r="5.9" fill="#fff" stroke="#000" stroke-width="1.9"/>
<circle cx="232.94" cy="962" r="5.9" fill="#fff" stroke="#000" stroke-width="1.9"/>
<circle cx="266.82" cy="943.7" r="5.9" fill="#fff" stroke="#000" stroke-width="1.9"/>
<circle cx="300.7" cy="950.1" r="5.9" fill="#fff" stroke="#000" stroke-width="1.9"/>
<circle cx="334.58" cy="954.1" r="5.9" fill="#fff" stroke="#000" stroke-width="1.9"/>
<circle cx="368.46" cy="960.8" r="5.9" fill="#fff" stroke="#000" stroke-width="1.9"/>
<circle cx="402.34" cy="980.3" r="5.9" fill="#fff" stroke="#000" stroke-width="1.9"/>
<circle cx="436.22" cy="976" r="5.9" fill="#fff" stroke="#000" stroke-width="1.9"/>
<circle cx="470.1" cy="920.3" r="5.9" fill="#fff" stroke="#000" stroke-width="1.9"/>
<circle cx="503.98" cy="951.1" r="5.9" fill="#fff" stroke="#000" stroke-width="1.9"/>
<circle cx="537.86" cy="870.3" r="5.9" fill="#fff" stroke="#000" stroke-width="1.9"/>
<line x1="124.55" y1="861.3" x2="138.05" y2="861.3" stroke="#000" stroke-width="1.9"/>
<line x1="124.55" y1="927.9" x2="138.05" y2="927.9" stroke="#000" stroke-width="1.9"/>
<line x1="131.3" y1="861.15" x2="131.3" y2="861.85" stroke="#000" stroke-width="1.9"/>
<line x1="131.3" y1="873.75" x2="131.3" y2="886.25" stroke="#000" stroke-width="1.9"/>
<line x1="131.3" y1="900.95" x2="131.3" y2="928.05" stroke="#000" stroke-width="1.9"/>
<line x1="158.43" y1="851.1" x2="171.93" y2="851.1" stroke="#000" stroke-width="1.9"/>
<line x1="158.43" y1="962.1" x2="171.93" y2="962.1" stroke="#000" stroke-width="1.9"/>
<line x1="165.18" y1="850.95" x2="165.18" y2="862.55" stroke="#000" stroke-width="1.9"/>
<line x1="165.18" y1="914.35" x2="165.18" y2="915.15" stroke="#000" stroke-width="1.9"/>
<line x1="165.18" y1="955.85" x2="165.18" y2="962.25" stroke="#000" stroke-width="1.9"/>
<line x1="192.31" y1="894.1" x2="205.81" y2="894.1" stroke="#000" stroke-width="1.9"/>
<line x1="192.31" y1="962" x2="205.81" y2="962" stroke="#000" stroke-width="1.9"/>
<line x1="199.06" y1="922.75" x2="199.06" y2="923.65" stroke="#000" stroke-width="1.9"/>
<line x1="226.19" y1="903.7" x2="239.69" y2="903.7" stroke="#000" stroke-width="1.9"/>
<line x1="226.19" y1="951" x2="239.69" y2="951" stroke="#000" stroke-width="1.9"/>
<line x1="232.94" y1="903.55" x2="232.94" y2="913.35" stroke="#000" stroke-width="1.9"/>
<line x1="260.07" y1="877.2" x2="273.57" y2="877.2" stroke="#000" stroke-width="1.9"/>
<line x1="260.07" y1="962.8" x2="273.57" y2="962.8" stroke="#000" stroke-width="1.9"/>
<line x1="266.82" y1="877.05" x2="266.82" y2="913.65" stroke="#000" stroke-width="1.9"/>
<line x1="266.82" y1="937.45" x2="266.82" y2="949.95" stroke="#000" stroke-width="1.9"/>
<line x1="293.95" y1="901.5" x2="307.45" y2="901.5" stroke="#000" stroke-width="1.9"/>
<line x1="293.95" y1="959.3" x2="307.45" y2="959.3" stroke="#000" stroke-width="1.9"/>
<line x1="300.7" y1="901.35" x2="300.7" y2="914.35" stroke="#000" stroke-width="1.9"/>
<line x1="300.7" y1="943.85" x2="300.7" y2="956.35" stroke="#000" stroke-width="1.9"/>
<line x1="327.83" y1="885" x2="341.33" y2="885" stroke="#000" stroke-width="1.9"/>
<line x1="327.83" y1="980.6" x2="341.33" y2="980.6" stroke="#000" stroke-width="1.9"/>
<line x1="334.58" y1="884.85" x2="334.58" y2="898.75" stroke="#000" stroke-width="1.9"/>
<line x1="334.58" y1="947.85" x2="334.58" y2="960.35" stroke="#000" stroke-width="1.9"/>
<line x1="361.71" y1="875.1" x2="375.21" y2="875.1" stroke="#000" stroke-width="1.9"/>
<line x1="361.71" y1="1003.2" x2="375.21" y2="1003.2" stroke="#000" stroke-width="1.9"/>
<line x1="368.46" y1="874.95" x2="368.46" y2="913.95" stroke="#000" stroke-width="1.9"/>
<line x1="368.46" y1="954.55" x2="368.46" y2="967.05" stroke="#000" stroke-width="1.9"/>
<line x1="395.59" y1="902" x2="409.09" y2="902" stroke="#000" stroke-width="1.9"/>
<line x1="395.59" y1="973.9" x2="409.09" y2="973.9" stroke="#000" stroke-width="1.9"/>
<line x1="402.34" y1="901.85" x2="402.34" y2="931.35" stroke="#000" stroke-width="1.9"/>
<line x1="429.47" y1="877.5" x2="442.97" y2="877.5" stroke="#000" stroke-width="1.9"/>
<line x1="429.47" y1="991.6" x2="442.97" y2="991.6" stroke="#000" stroke-width="1.9"/>
<line x1="436.22" y1="877.35" x2="436.22" y2="928.15" stroke="#000" stroke-width="1.9"/>
<line x1="436.22" y1="940.85" x2="436.22" y2="944.45" stroke="#000" stroke-width="1.9"/>
<line x1="436.22" y1="969.75" x2="436.22" y2="982.25" stroke="#000" stroke-width="1.9"/>
<line x1="463.35" y1="861.7" x2="476.85" y2="861.7" stroke="#000" stroke-width="1.9"/>
<line x1="463.35" y1="996.2" x2="476.85" y2="996.2" stroke="#000" stroke-width="1.9"/>
<line x1="470.1" y1="861.55" x2="470.1" y2="870.45" stroke="#000" stroke-width="1.9"/>
<line x1="470.1" y1="914.05" x2="470.1" y2="923.65" stroke="#000" stroke-width="1.9"/>
<line x1="470.1" y1="967.85" x2="470.1" y2="996.35" stroke="#000" stroke-width="1.9"/>
<line x1="497.23" y1="882.7" x2="510.73" y2="882.7" stroke="#000" stroke-width="1.9"/>
<line x1="497.23" y1="982.5" x2="510.73" y2="982.5" stroke="#000" stroke-width="1.9"/>
<line x1="503.98" y1="882.55" x2="503.98" y2="928.65" stroke="#000" stroke-width="1.9"/>
<line x1="503.98" y1="944.85" x2="503.98" y2="957.35" stroke="#000" stroke-width="1.9"/>
<line x1="503.98" y1="960.95" x2="503.98" y2="982.65" stroke="#000" stroke-width="1.9"/>
<line x1="531.11" y1="888.6" x2="544.61" y2="888.6" stroke="#000" stroke-width="1.9"/>
<line x1="531.11" y1="976.6" x2="544.61" y2="976.6" stroke="#000" stroke-width="1.9"/>
<line x1="537.86" y1="888.45" x2="537.86" y2="927.05" stroke="#000" stroke-width="1.9"/>
<line x1="537.86" y1="939.75" x2="537.86" y2="976.75" stroke="#000" stroke-width="1.9"/>
<line x1="131.3" y1="894.6" x2="165.18" y2="908" stroke="#000" stroke-width="1.9"/>
<line x1="165.18" y1="908" x2="199.06" y2="930" stroke="#000" stroke-width="1.9"/>
<line x1="199.06" y1="930" x2="232.94" y2="927.8" stroke="#000" stroke-width="1.9"/>
<line x1="232.94" y1="927.8" x2="266.82" y2="920" stroke="#000" stroke-width="1.9"/>
<line x1="266.82" y1="920" x2="300.7" y2="930.9" stroke="#000" stroke-width="1.9"/>
<line x1="300.7" y1="930.9" x2="334.58" y2="933.9" stroke="#000" stroke-width="1.9"/>
<line x1="334.58" y1="933.9" x2="368.46" y2="937" stroke="#000" stroke-width="1.9"/>
<line x1="368.46" y1="937" x2="402.34" y2="937.7" stroke="#000" stroke-width="1.9"/>
<line x1="402.34" y1="937.7" x2="436.22" y2="934.5" stroke="#000" stroke-width="1.9"/>
<line x1="436.22" y1="934.5" x2="470.1" y2="930" stroke="#000" stroke-width="1.9"/>
<line x1="470.1" y1="930" x2="503.98" y2="935" stroke="#000" stroke-width="1.9"/>
<line x1="503.98" y1="935" x2="537.86" y2="933.4" stroke="#000" stroke-width="1.9"/>
<polygon points="131.3,889 137,900.2 125.6,900.2" fill="none" stroke="#000" stroke-width="1.9" stroke-linejoin="round"/>
<polygon points="199.06,924.4 204.76,935.6 193.36,935.6" fill="none" stroke="#000" stroke-width="1.9" stroke-linejoin="round"/>
<polygon points="232.94,922.2 238.64,933.4 227.24,933.4" fill="none" stroke="#000" stroke-width="1.9" stroke-linejoin="round"/>
<polygon points="266.82,914.4 272.52,925.6 261.12,925.6" fill="none" stroke="#000" stroke-width="1.9" stroke-linejoin="round"/>
<polygon points="300.7,925.3 306.4,936.5 295,936.5" fill="none" stroke="#000" stroke-width="1.9" stroke-linejoin="round"/>
<polygon points="334.58,928.3 340.28,939.5 328.88,939.5" fill="none" stroke="#000" stroke-width="1.9" stroke-linejoin="round"/>
<polygon points="368.46,931.4 374.16,942.6 362.76,942.6" fill="none" stroke="#000" stroke-width="1.9" stroke-linejoin="round"/>
<polygon points="402.34,932.1 408.04,943.3 396.64,943.3" fill="none" stroke="#000" stroke-width="1.9" stroke-linejoin="round"/>
<polygon points="436.22,928.9 441.92,940.1 430.52,940.1" fill="none" stroke="#000" stroke-width="1.9" stroke-linejoin="round"/>
<polygon points="470.1,924.4 475.8,935.6 464.4,935.6" fill="none" stroke="#000" stroke-width="1.9" stroke-linejoin="round"/>
<polygon points="503.98,929.4 509.68,940.6 498.28,940.6" fill="none" stroke="#000" stroke-width="1.9" stroke-linejoin="round"/>
<polygon points="537.86,927.8 543.56,939 532.16,939" fill="none" stroke="#000" stroke-width="1.9" stroke-linejoin="round"/>
<line x1="124.55" y1="857" x2="138.05" y2="857" stroke="#000" stroke-width="1.9"/>
<line x1="124.55" y1="984.5" x2="138.05" y2="984.5" stroke="#000" stroke-width="1.9"/>
<line x1="131.3" y1="856.85" x2="131.3" y2="861.45" stroke="#000" stroke-width="1.9"/>
<line x1="131.3" y1="896.85" x2="131.3" y2="901.25" stroke="#000" stroke-width="1.9"/>
<line x1="131.3" y1="927.75" x2="131.3" y2="984.65" stroke="#000" stroke-width="1.9"/>
<line x1="158.43" y1="891.6" x2="171.93" y2="891.6" stroke="#000" stroke-width="1.9"/>
<line x1="158.43" y1="962.1" x2="171.93" y2="962.1" stroke="#000" stroke-width="1.9"/>
<line x1="165.18" y1="902.65" x2="165.18" y2="914.65" stroke="#000" stroke-width="1.9"/>
<line x1="192.31" y1="893.6" x2="205.81" y2="893.6" stroke="#000" stroke-width="1.9"/>
<line x1="192.31" y1="948" x2="205.81" y2="948" stroke="#000" stroke-width="1.9"/>
<line x1="199.06" y1="926.55" x2="199.06" y2="935.25" stroke="#000" stroke-width="1.9"/>
<line x1="226.19" y1="875.5" x2="239.69" y2="875.5" stroke="#000" stroke-width="1.9"/>
<line x1="226.19" y1="965" x2="239.69" y2="965" stroke="#000" stroke-width="1.9"/>
<line x1="232.94" y1="875.35" x2="232.94" y2="903.85" stroke="#000" stroke-width="1.9"/>
<line x1="232.94" y1="955.75" x2="232.94" y2="965.15" stroke="#000" stroke-width="1.9"/>
<line x1="260.07" y1="880" x2="273.57" y2="880" stroke="#000" stroke-width="1.9"/>
<line x1="260.07" y1="953.2" x2="273.57" y2="953.2" stroke="#000" stroke-width="1.9"/>
<line x1="293.95" y1="891.6" x2="307.45" y2="891.6" stroke="#000" stroke-width="1.9"/>
<line x1="293.95" y1="941" x2="307.45" y2="941" stroke="#000" stroke-width="1.9"/>
<line x1="300.7" y1="891.45" x2="300.7" y2="901.65" stroke="#000" stroke-width="1.9"/>
<line x1="327.83" y1="886.6" x2="341.33" y2="886.6" stroke="#000" stroke-width="1.9"/>
<line x1="327.83" y1="968.9" x2="341.33" y2="968.9" stroke="#000" stroke-width="1.9"/>
<line x1="361.71" y1="885.8" x2="375.21" y2="885.8" stroke="#000" stroke-width="1.9"/>
<line x1="361.71" y1="943.6" x2="375.21" y2="943.6" stroke="#000" stroke-width="1.9"/>
<line x1="395.59" y1="887.2" x2="409.09" y2="887.2" stroke="#000" stroke-width="1.9"/>
<line x1="395.59" y1="962.3" x2="409.09" y2="962.3" stroke="#000" stroke-width="1.9"/>
<line x1="402.34" y1="887.05" x2="402.34" y2="902.15" stroke="#000" stroke-width="1.9"/>
<line x1="402.34" y1="931.05" x2="402.34" y2="938.05" stroke="#000" stroke-width="1.9"/>
<line x1="429.47" y1="887.5" x2="442.97" y2="887.5" stroke="#000" stroke-width="1.9"/>
<line x1="429.47" y1="939.8" x2="442.97" y2="939.8" stroke="#000" stroke-width="1.9"/>
<line x1="436.22" y1="927.85" x2="436.22" y2="939.95" stroke="#000" stroke-width="1.9"/>
<line x1="463.35" y1="857.4" x2="476.85" y2="857.4" stroke="#000" stroke-width="1.9"/>
<line x1="463.35" y1="975.8" x2="476.85" y2="975.8" stroke="#000" stroke-width="1.9"/>
<line x1="470.1" y1="857.25" x2="470.1" y2="861.85" stroke="#000" stroke-width="1.9"/>
<line x1="470.1" y1="923.55" x2="470.1" y2="926.55" stroke="#000" stroke-width="1.9"/>
<line x1="497.23" y1="897.2" x2="510.73" y2="897.2" stroke="#000" stroke-width="1.9"/>
<line x1="497.23" y1="975.3" x2="510.73" y2="975.3" stroke="#000" stroke-width="1.9"/>
<line x1="503.98" y1="928.35" x2="503.98" y2="930.55" stroke="#000" stroke-width="1.9"/>
<line x1="131.3" y1="920.7" x2="165.18" y2="926.8" stroke="#000" stroke-width="1.9"/>
<line x1="165.18" y1="926.8" x2="199.06" y2="920.8" stroke="#000" stroke-width="1.9"/>
<line x1="199.06" y1="920.8" x2="232.94" y2="919.6" stroke="#000" stroke-width="1.9"/>
<line x1="232.94" y1="919.6" x2="266.82" y2="916.3" stroke="#000" stroke-width="1.9"/>
<line x1="266.82" y1="916.3" x2="300.7" y2="916.3" stroke="#000" stroke-width="1.9"/>
<line x1="300.7" y1="916.3" x2="334.58" y2="926.9" stroke="#000" stroke-width="1.9"/>
<line x1="334.58" y1="926.9" x2="368.46" y2="914.7" stroke="#000" stroke-width="1.9"/>
<line x1="368.46" y1="914.7" x2="402.34" y2="924.5" stroke="#000" stroke-width="1.9"/>
<line x1="402.34" y1="924.5" x2="436.22" y2="912.4" stroke="#000" stroke-width="1.9"/>
<line x1="436.22" y1="912.4" x2="470.1" y2="917.8" stroke="#000" stroke-width="1.9"/>
<line x1="470.1" y1="917.8" x2="503.98" y2="936.3" stroke="#000" stroke-width="1.9"/>
<line x1="503.98" y1="936.3" x2="537.86" y2="958.4" stroke="#000" stroke-width="1.9"/>
<circle cx="131.3" cy="920.7" r="5.9" fill="#fff" stroke="#000" stroke-width="1.9"/>
<circle cx="165.18" cy="926.8" r="5.9" fill="#fff" stroke="#000" stroke-width="1.9"/>
<circle cx="199.06" cy="920.8" r="5.9" fill="#fff" stroke="#000" stroke-width="1.9"/>
<circle cx="232.94" cy="919.6" r="5.9" fill="#fff" stroke="#000" stroke-width="1.9"/>
<circle cx="266.82" cy="916.3" r="5.9" fill="#fff" stroke="#000" stroke-width="1.9"/>
<circle cx="300.7" cy="916.3" r="5.9" fill="#fff" stroke="#000" stroke-width="1.9"/>
<circle cx="334.58" cy="926.9" r="5.9" fill="#fff" stroke="#000" stroke-width="1.9"/>
<circle cx="368.46" cy="914.7" r="5.9" fill="#fff" stroke="#000" stroke-width="1.9"/>
<circle cx="402.34" cy="924.5" r="5.9" fill="#fff" stroke="#000" stroke-width="1.9"/>
<circle cx="436.22" cy="912.4" r="5.9" fill="#fff" stroke="#000" stroke-width="1.9"/>
<circle cx="470.1" cy="917.8" r="5.9" fill="#fff" stroke="#000" stroke-width="1.9"/>
<circle cx="503.98" cy="936.3" r="5.9" fill="#fff" stroke="#000" stroke-width="1.9"/>
<circle cx="537.86" cy="958.4" r="5.9" fill="#fff" stroke="#000" stroke-width="1.9"/>
<line x1="124.55" y1="875" x2="138.05" y2="875" stroke="#000" stroke-width="1.9"/>
<line x1="124.55" y1="945.1" x2="138.05" y2="945.1" stroke="#000" stroke-width="1.9"/>
<line x1="131.3" y1="917.35" x2="131.3" y2="926.95" stroke="#000" stroke-width="1.9"/>
<line x1="158.43" y1="900.6" x2="171.93" y2="900.6" stroke="#000" stroke-width="1.9"/>
<line x1="158.43" y1="957.8" x2="171.93" y2="957.8" stroke="#000" stroke-width="1.9"/>
<line x1="192.31" y1="862.1" x2="205.81" y2="862.1" stroke="#000" stroke-width="1.9"/>
<line x1="192.31" y1="925.3" x2="205.81" y2="925.3" stroke="#000" stroke-width="1.9"/>
<line x1="199.06" y1="861.95" x2="199.06" y2="887.35" stroke="#000" stroke-width="1.9"/>
<line x1="199.06" y1="914.55" x2="199.06" y2="925.45" stroke="#000" stroke-width="1.9"/>
<line x1="226.19" y1="845.6" x2="239.69" y2="845.6" stroke="#000" stroke-width="1.9"/>
<line x1="226.19" y1="935" x2="239.69" y2="935" stroke="#000" stroke-width="1.9"/>
<line x1="232.94" y1="845.45" x2="232.94" y2="875.65" stroke="#000" stroke-width="1.9"/>
<line x1="232.94" y1="913.35" x2="232.94" y2="925.85" stroke="#000" stroke-width="1.9"/>
<line x1="260.07" y1="849.2" x2="273.57" y2="849.2" stroke="#000" stroke-width="1.9"/>
<line x1="260.07" y1="921.8" x2="273.57" y2="921.8" stroke="#000" stroke-width="1.9"/>
<line x1="266.82" y1="849.05" x2="266.82" y2="877.35" stroke="#000" stroke-width="1.9"/>
<line x1="266.82" y1="910.05" x2="266.82" y2="921.95" stroke="#000" stroke-width="1.9"/>
<line x1="293.95" y1="858.3" x2="307.45" y2="858.3" stroke="#000" stroke-width="1.9"/>
<line x1="293.95" y1="935.3" x2="307.45" y2="935.3" stroke="#000" stroke-width="1.9"/>
<line x1="300.7" y1="858.15" x2="300.7" y2="890.45" stroke="#000" stroke-width="1.9"/>
<line x1="300.7" y1="910.05" x2="300.7" y2="922.55" stroke="#000" stroke-width="1.9"/>
<line x1="327.83" y1="862.9" x2="341.33" y2="862.9" stroke="#000" stroke-width="1.9"/>
<line x1="327.83" y1="944.9" x2="341.33" y2="944.9" stroke="#000" stroke-width="1.9"/>
<line x1="334.58" y1="862.75" x2="334.58" y2="885.15" stroke="#000" stroke-width="1.9"/>
<line x1="334.58" y1="920.65" x2="334.58" y2="933.15" stroke="#000" stroke-width="1.9"/>
<line x1="361.71" y1="898.3" x2="375.21" y2="898.3" stroke="#000" stroke-width="1.9"/>
<line x1="361.71" y1="938.7" x2="375.21" y2="938.7" stroke="#000" stroke-width="1.9"/>
<line x1="368.46" y1="908.45" x2="368.46" y2="912.15" stroke="#000" stroke-width="1.9"/>
<line x1="395.59" y1="915.6" x2="409.09" y2="915.6" stroke="#000" stroke-width="1.9"/>
<line x1="395.59" y1="947.5" x2="409.09" y2="947.5" stroke="#000" stroke-width="1.9"/>
<line x1="402.34" y1="918.25" x2="402.34" y2="924.65" stroke="#000" stroke-width="1.9"/>
<line x1="429.47" y1="857.7" x2="442.97" y2="857.7" stroke="#000" stroke-width="1.9"/>
<line x1="429.47" y1="948.6" x2="442.97" y2="948.6" stroke="#000" stroke-width="1.9"/>
<line x1="436.22" y1="857.55" x2="436.22" y2="877.65" stroke="#000" stroke-width="1.9"/>
<line x1="436.22" y1="909.35" x2="436.22" y2="918.65" stroke="#000" stroke-width="1.9"/>
<line x1="436.22" y1="939.65" x2="436.22" y2="941.15" stroke="#000" stroke-width="1.9"/>
<line x1="463.35" y1="938.6" x2="476.85" y2="938.6" stroke="#000" stroke-width="1.9"/>
<line x1="131.3" y1="911" x2="165.18" y2="926.8" stroke="#000" stroke-width="1.9"/>
<line x1="165.18" y1="926.8" x2="199.06" y2="893.7" stroke="#000" stroke-width="1.9"/>
<line x1="199.06" y1="893.7" x2="232.94" y2="890.3" stroke="#000" stroke-width="1.9"/>
<line x1="232.94" y1="890.3" x2="266.82" y2="885.5" stroke="#000" stroke-width="1.9"/>
<line x1="266.82" y1="885.5" x2="300.7" y2="896.8" stroke="#000" stroke-width="1.9"/>
<line x1="300.7" y1="896.8" x2="334.58" y2="903.1" stroke="#000" stroke-width="1.9"/>
<line x1="334.58" y1="903.1" x2="368.46" y2="918.5" stroke="#000" stroke-width="1.9"/>
<line x1="368.46" y1="918.5" x2="402.34" y2="931" stroke="#000" stroke-width="1.9"/>
<line x1="402.34" y1="931" x2="436.22" y2="903" stroke="#000" stroke-width="1.9"/>
<line x1="436.22" y1="903" x2="470.1" y2="943" stroke="#000" stroke-width="1.9"/>
<polygon points="125.6,905.4 137,905.4 131.3,916.6" fill="none" stroke="#000" stroke-width="1.9" stroke-linejoin="round"/>
<polygon points="159.48,921.2 170.88,921.2 165.18,932.4" fill="none" stroke="#000" stroke-width="1.9" stroke-linejoin="round"/>
<polygon points="193.36,888.1 204.76,888.1 199.06,899.3" fill="none" stroke="#000" stroke-width="1.9" stroke-linejoin="round"/>
<polygon points="227.24,884.7 238.64,884.7 232.94,895.9" fill="none" stroke="#000" stroke-width="1.9" stroke-linejoin="round"/>
<polygon points="261.12,879.9 272.52,879.9 266.82,891.1" fill="none" stroke="#000" stroke-width="1.9" stroke-linejoin="round"/>
<polygon points="295,891.2 306.4,891.2 300.7,902.4" fill="none" stroke="#000" stroke-width="1.9" stroke-linejoin="round"/>
<polygon points="328.88,897.5 340.28,897.5 334.58,908.7" fill="none" stroke="#000" stroke-width="1.9" stroke-linejoin="round"/>
<polygon points="362.76,912.9 374.16,912.9 368.46,924.1" fill="none" stroke="#000" stroke-width="1.9" stroke-linejoin="round"/>
<polygon points="396.64,925.4 408.04,925.4 402.34,936.6" fill="none" stroke="#000" stroke-width="1.9" stroke-linejoin="round"/>
<polygon points="430.52,897.4 441.92,897.4 436.22,908.6" fill="none" stroke="#000" stroke-width="1.9" stroke-linejoin="round"/>
<polygon points="464.4,937.4 475.8,937.4 470.1,948.6" fill="none" stroke="#000" stroke-width="1.9" stroke-linejoin="round"/>
</svg>
</body></html>
